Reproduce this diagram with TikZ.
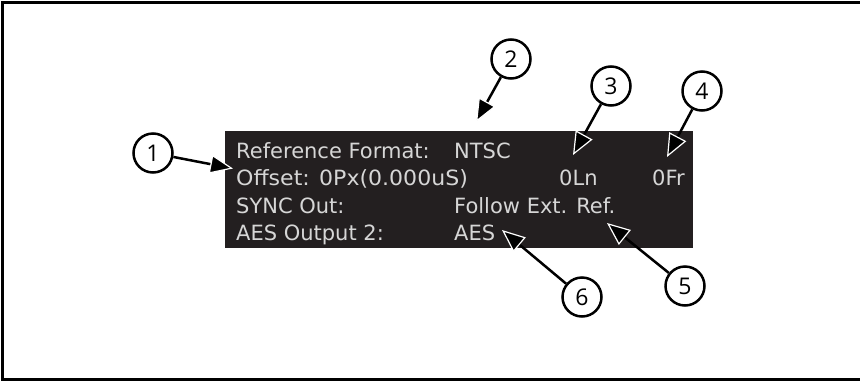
\documentclass[tikz,border=0pt]{standalone}
\usepackage{fontspec}
\setmainfont{DejaVu Sans}
\newfontfamily\numfont{Open Sans}
\usetikzlibrary{arrows.meta}
\definecolor{screenbg}{HTML}{231F20}
\definecolor{screentext}{HTML}{D6D6D6}
\tikzset{
  screentxt/.style={text=screentext, inner sep=0pt, anchor=base west,
    font=\fontsize{21}{21}\selectfont},
  callout/.style={circle, draw=black, line width=2.5pt, fill=white,
    minimum size=39pt, inner sep=0pt, font=\numfont\fontsize{23}{23}\selectfont},
  pointer/.style={line width=2.5pt,
    -{Triangle[length=23pt,width=19pt,color=white,fill=black,line width=1.2pt]}}
}
\begin{document}
\begin{tikzpicture}[x=1pt,y=-1pt]
\useasboundingbox (0,0) rectangle (860,381);
% open frame (left, top and bottom rules)
\draw[line width=3pt] (861,2.7) -- (2.8,2.7) -- (2.8,379.3) -- (861,379.3);

% display panel
\fill[screenbg] (225,131) rectangle (693,248);
\node[screentxt] (rf)  at (236,158.5) {Reference Format:};
\node[screentxt] (ntsc) at (454,158.5) {NTSC};
\node[screentxt] (off) at (236,185.5) {\scalebox{1.05}[1]{Offset: 0Px(0.000uS)}};
\node[screentxt] (ln)  at (559,185.5) {0Ln};
\node[screentxt] (fr)  at (652,185.5) {0Fr};
\node[screentxt] (sync) at (236,213) {SYNC Out:};
\node[screentxt] (fol) at (454,213) {Follow Ext. Ref.};
\node[screentxt] (aes2) at (236,240) {AES Output 2:};
\node[screentxt] (aes) at (454,240) {AES};

% numbered callouts
\node[callout] (c1) at (153,153) {1};
\node[callout] (c2) at (511,59) {2};
\node[callout] (c3) at (611,86) {3};
\node[callout] (c4) at (702,91) {4};
\node[callout] (c5) at (685,286) {5};
\node[callout] (c6) at (582,297) {6};

% arrow tips
\coordinate (t1) at (233,168.5);
\coordinate (t2) at (476,122);
\coordinate (t3) at (573,155);
\coordinate (t4) at (667,157);
\coordinate (t5) at (607,223);
\coordinate (t6) at (502,230);

\draw[pointer] (c1) -- (t1);
\draw[pointer] (c2) -- (t2);
\draw[pointer] (c3) -- (t3);
\draw[pointer] (c4) -- (t4);
\draw[pointer] (c5) -- (t5);
\draw[pointer] (c6) -- (t6);
\end{tikzpicture}
\end{document}
